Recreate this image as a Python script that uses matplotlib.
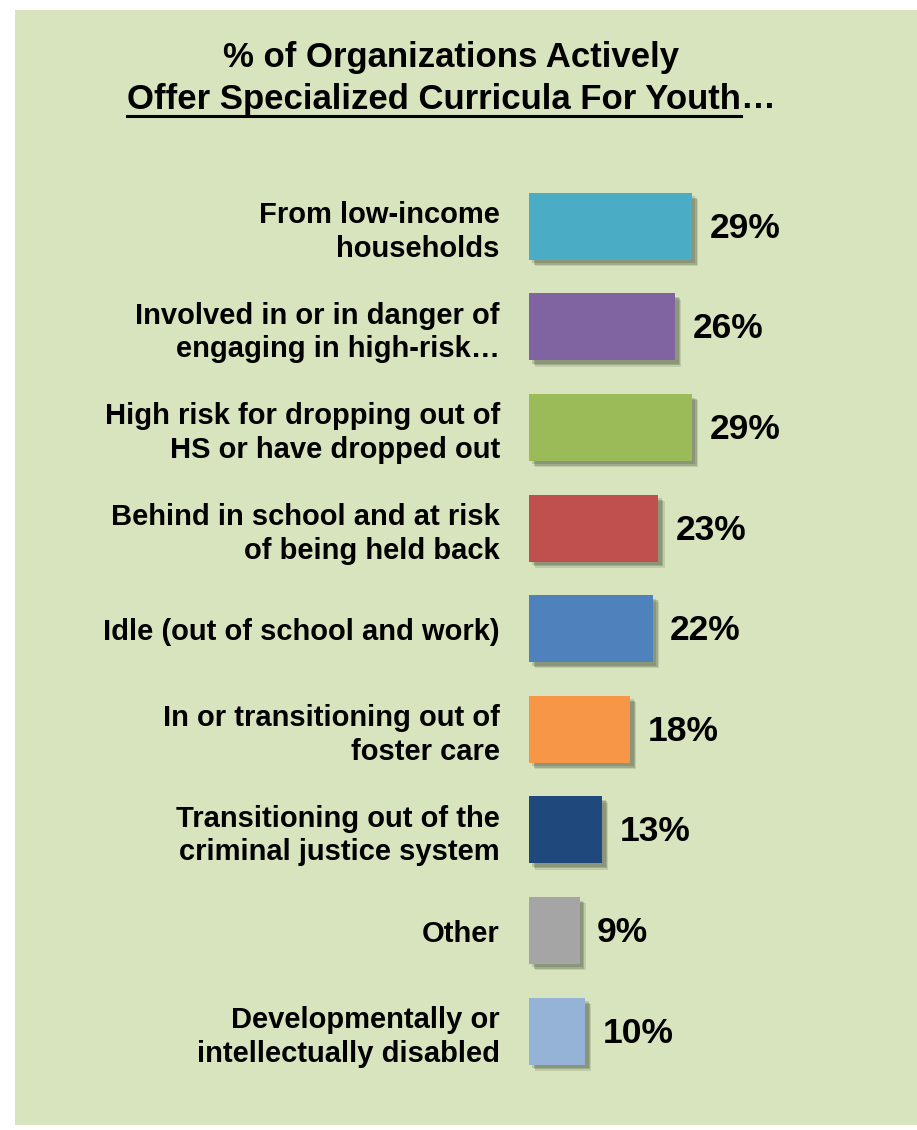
"""Horizontal bar chart: share of organizations offering specialized curricula by youth group."""

import matplotlib

matplotlib.use("Agg")

import matplotlib.pyplot as plt
from matplotlib import patheffects
from matplotlib.patches import Rectangle

plt.rcParams["font.family"] = ["Liberation Sans", "DejaVu Sans"]
plt.rcParams["font.weight"] = "bold"

categories = [
    "From low-income\nhouseholds",
    "Involved in or in danger of\nengaging in high-risk\u2026",
    "High risk for dropping out of\nHS or have dropped out",
    "Behind in school and at risk\nof being held back",
    "Idle (out of school and work)",
    "In or transitioning out of\nfoster care",
    "Transitioning out of the\ncriminal justice system",
    "Other",
    "Developmentally or\nintellectually disabled",
]
values = [29, 26, 29, 23, 22, 18, 13, 9, 10]
colors = [
    "#4BACC6", "#8064A2", "#9BBB59", "#C0504D", "#4F81BD",
    "#F79646", "#1F497D", "#A5A5A5", "#95B3D7",
]

W, H = 917, 1130
PANEL = "#D7E4BD"

fig = plt.figure(figsize=(W / 100, H / 100), dpi=100, facecolor="white")

# light green panel behind everything
fig.patches.append(Rectangle((15 / W, 5 / H), (W - 15) / W, (H - 15) / H,
                             transform=fig.transFigure, facecolor=PANEL,
                             edgecolor="none", zorder=-10))

# axes: bars start at x=529px, 1% ~ 5.62px; rows spaced ~100.6px
row = 100.6
ax = fig.add_axes([529 / W, (H - 176 - 9 * row) / H, (W - 529) / W, 9 * row / H])
ax.set_facecolor("none")
ax.set_xlim(0, (W - 529) / 5.62)
ax.set_ylim(len(values) - 0.5, -0.5)
for s in ax.spines.values():
    s.set_visible(False)
ax.set_xticks([])

ypos = list(range(len(values)))
bars = ax.barh(ypos, values, height=0.665, color=colors, zorder=3)

shadow = [
    patheffects.SimplePatchShadow(offset=(2.5, -2.5), shadow_rgbFace="#2f3a25", alpha=0.18),
    patheffects.SimplePatchShadow(offset=(3.5, -3.5), shadow_rgbFace="#2f3a25", alpha=0.22),
    patheffects.SimplePatchShadow(offset=(4.5, -4.5), shadow_rgbFace="#2f3a25", alpha=0.14),
    patheffects.Normal(),
]
for b in bars:
    b.set_path_effects(shadow)

ax.set_yticks(ypos)
ax.set_yticklabels(categories, fontsize=21, fontweight="bold", ha="right",
                   multialignment="right", linespacing=1.25)
ax.tick_params(axis="y", length=0, pad=21)

for y, v in zip(ypos, values):
    ax.annotate(f"{v}%", xy=(v, y), xytext=(12.5, -1.5), textcoords="offset points",
                ha="left", va="center", fontsize=25.5, fontweight="bold")

# title, second line underlined except the trailing ellipsis
cx = 451 / W
fig.text(cx, 1 - 58 / H, "% of Organizations Actively", ha="center", va="center",
         fontsize=25, fontweight="bold")
main = fig.text(0, 1 - 99 / H, "Offer Specialized Curricula For Youth", ha="left",
                va="center", fontsize=25, fontweight="bold")
dots = fig.text(0, 1 - 99 / H, "\u2026", ha="left", va="center",
                fontsize=25, fontweight="bold")

fig.canvas.draw()
r = fig.canvas.get_renderer()
wm = main.get_window_extent(r).width
wd = dots.get_window_extent(r).width
x0 = cx * W - (wm + wd) / 2
main.set_x(x0 / W)
dots.set_x((x0 + wm) / W)
uy = 1 - 116 / H
fig.add_artist(plt.Line2D([x0 / W, (x0 + wm) / W], [uy, uy], color="black",
                          linewidth=2.2, transform=fig.transFigure))

fig.savefig("out.png", dpi=100, facecolor="white")
